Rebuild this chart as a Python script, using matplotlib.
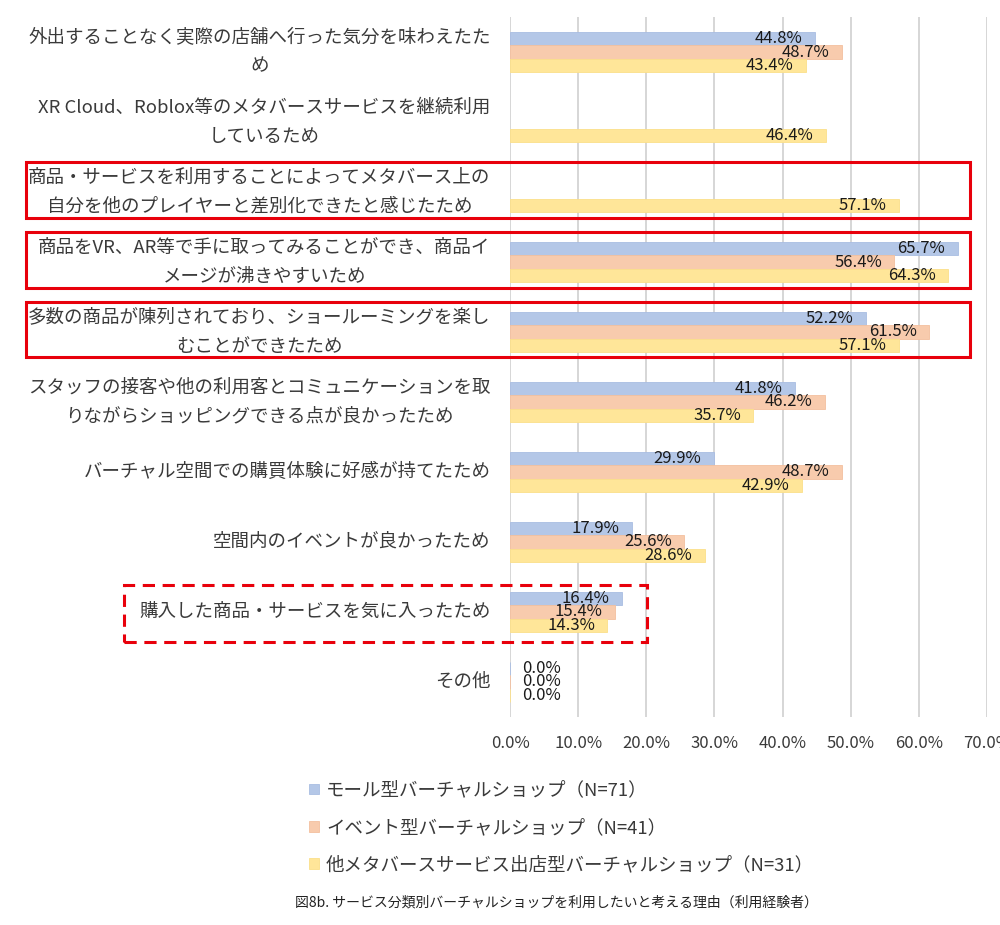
import matplotlib
matplotlib.use("Agg")
import matplotlib.pyplot as plt
import numpy as np
from matplotlib.patches import Rectangle

plt.rcParams['font.family'] = ['Noto Sans CJK JP', 'DejaVu Sans']

categories = [
    "外出することなく実際の店舗へ行った気分を味わえたた\nめ",
    "XR Cloud、Roblox等のメタバースサービスを継続利用\nしているため",
    "商品・サービスを利用することによってメタバース上の\n自分を他のプレイヤーと差別化できたと感じたため",
    "商品をVR、AR等で手に取ってみることができ、商品イ\nメージが沸きやすいため",
    "多数の商品が陳列されており、ショールーミングを楽し\nむことができたため",
    "スタッフの接客や他の利用客とコミュニケーションを取\nりながらショッピングできる点が良かったため",
    "バーチャル空間での購買体験に好感が持てたため",
    "空間内のイベントが良かったため",
    "購入した商品・サービスを気に入ったため",
    "その他",
]
series_names = [
    "モール型バーチャルショップ（N=71）",
    "イベント型バーチャルショップ（N=41）",
    "他メタバースサービス出店型バーチャルショップ（N=31）",
]
mall = [44.8, np.nan, np.nan, 65.7, 52.2, 41.8, 29.9, 17.9, 16.4, 0.0]
event = [48.7, np.nan, np.nan, 56.4, 61.5, 46.2, 48.7, 25.6, 15.4, 0.0]
other = [43.4, 46.4, 57.1, 64.3, 57.1, 35.7, 42.9, 28.6, 14.3, 0.0]
xticks = [0, 10, 20, 30, 40, 50, 60, 70]

colors = ['#b4c7e7', '#f8cbad', '#ffe699']
edges = ['#a9bde2', '#f3c09f', '#fbe08a']
txt = '#3a3a3a'

fig = plt.figure(figsize=(10, 9.25), dpi=100)
ax = fig.add_axes([0.51, 0.2249, 0.477, 0.7567])

y = np.arange(len(categories))
h = 0.19
offsets = [-h, 0, h]
for vals, off, c, ec, name in zip([mall, event, other], offsets, colors, edges, series_names):
    vals = np.array(vals, dtype=float)
    ax.barh(y + off, vals, height=h, color=c, edgecolor=ec, linewidth=0.6, label=name, zorder=2)
    for yi, v in zip(y + off, vals):
        if np.isnan(v):
            continue
        if v < 5:
            ax.annotate(f"{v:.1f}%", (0, yi), xytext=(9, 0), textcoords='offset points',
                        ha='left', va='center', fontsize=12, color='#1a1a1a', zorder=3)
        else:
            ax.annotate(f"{v:.1f}%", (v, yi), xytext=(-9, 0), textcoords='offset points',
                        ha='right', va='center', fontsize=12, color='#1a1a1a', zorder=3)

ax.set_xlim(0, 70)
ax.set_ylim(len(categories) - 0.5, -0.5)
ax.set_xticks(xticks)
ax.set_xticklabels([f"{t:.1f}%" for t in xticks], fontsize=12, color=txt)
ax.set_yticks(y)
ax.set_yticklabels(categories, fontsize=13.3, color=txt, linespacing=1.8)
for t in ax.get_yticklabels():
    t.set_multialignment('center')
    t.set_verticalalignment('center')
ax.tick_params(axis='y', length=0, pad=14)
ax.tick_params(axis='x', length=0, pad=13)
ax.grid(axis='x', color='#d0d0d0', linewidth=1.2, zorder=0)
ax.set_axisbelow(True)
for s in ax.spines.values():
    s.set_visible(False)

# highlight boxes (figure pixel coordinates)
W, H = 1000, 925
def box(x0, y0, x1, y1, ls):
    r = Rectangle((x0 / W, 1 - y1 / H), (x1 - x0) / W, (y1 - y0) / H,
                  transform=fig.transFigure, fill=False, edgecolor='#e8000b',
                  linewidth=2.2, linestyle=ls, zorder=5)
    fig.patches.append(r)

box(26, 162, 970, 218, '-')
box(26, 232, 970, 288, '-')
box(26, 302, 970, 357, '-')
box(124, 585, 647, 642, (0, (4, 2.5)))

leg = fig.legend(loc='upper left', bbox_to_anchor=(0.302, 0.163), frameon=False,
                 fontsize=13.3, handlelength=0.5, handleheight=0.5, labelspacing=1.04,
                 handletextpad=0.4, labelcolor=txt, borderaxespad=0)

fig.text(0.556, 0.024, "図8b. サービス分類別バーチャルショップを利用したいと考える理由（利用経験者）",
         ha='center', va='center', fontsize=10, color='#222222')

fig.savefig("out.png", dpi=100)
